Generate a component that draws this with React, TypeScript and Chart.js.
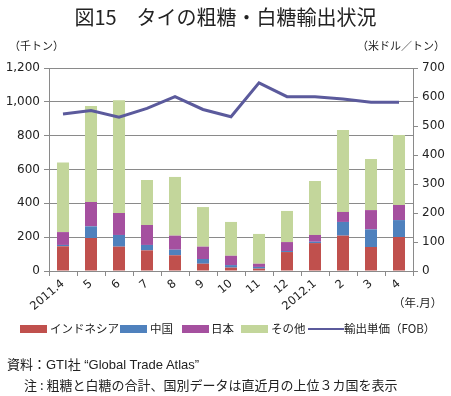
import React, { useEffect, useRef } from "react";
import { Chart, registerables } from "chart.js";

Chart.register(...registerables);

const categories = ["2011.4", "5", "6", "7", "8", "9", "10", "11", "12", "2012.1", "2", "3", "4"];
const indonesia = [146, 195, 144, 122, 93, 43, 20, 14, 112, 165, 209, 142, 201];
const china = [8, 69, 69, 32, 33, 28, 15, 10, 6, 8, 81, 104, 100];
const japan = [76, 144, 130, 118, 83, 73, 55, 19, 53, 40, 59, 114, 89];
const others = [412, 567, 667, 266, 347, 234, 200, 176, 184, 319, 484, 302, 414];
const exportPrice = [541, 553, 530, 561, 601, 557, 532, 649, 601, 601, 593, 582, 582];

const seriesNames = ["インドネシア", "中国", "日本", "その他", "輸出単価（FOB）"];
const colors = ["#c0504d", "#4f81bd", "#a5509f", "#c3d69b", "#5b5a9c"];

const FONT = "'Noto Sans CJK JP', 'Noto Sans', sans-serif";
const LATIN_FONT = "'Liberation Sans', 'Noto Sans CJK JP', sans-serif";

export default function App() {
  const ref = useRef<HTMLCanvasElement | null>(null);

  useEffect(() => {
    if (!ref.current) return;
    const chart = new Chart(ref.current, {
      type: "bar",
      data: {
        labels: categories,
        datasets: [
          {
            type: "line",
            label: seriesNames[4],
            data: exportPrice,
            borderColor: colors[4],
            backgroundColor: colors[4],
            borderWidth: 3,
            pointRadius: 0,
            tension: 0,
            yAxisID: "y2",
            order: 0,
          } as any,
          { label: seriesNames[0], data: indonesia, backgroundColor: colors[0], yAxisID: "y", stack: "s", order: 1 },
          { label: seriesNames[1], data: china, backgroundColor: colors[1], yAxisID: "y", stack: "s", order: 1 },
          { label: seriesNames[2], data: japan, backgroundColor: colors[2], yAxisID: "y", stack: "s", order: 1 },
          { label: seriesNames[3], data: others, backgroundColor: colors[3], yAxisID: "y", stack: "s", order: 1 },
        ],
      },
      options: {
        animation: false,
        responsive: false,
        maintainAspectRatio: false,
        datasets: { bar: { categoryPercentage: 1, barPercentage: 0.43 } },
        layout: { padding: { left: 0, right: 0, top: 68, bottom: 0 } },
        plugins: { legend: { display: false }, tooltip: { enabled: false } },
        scales: {
          x: {
            stacked: true,
            offset: true,
            grid: { display: true, offset: true, drawOnChartArea: false, drawTicks: true, tickLength: 5, color: "#8a8a8a" },
            border: { color: "#8a8a8a" },
            ticks: {
              color: "#222",
              font: { family: "'DejaVu Sans', sans-serif", size: 11.5 },
              minRotation: 40,
              maxRotation: 40,
              autoSkip: false,
              padding: 1,
            },
            afterFit: (s: any) => { s.height = 396 - 271; },
          },
          y: {
            stacked: true,
            position: "left",
            min: 0,
            max: 1200,
            ticks: {
              stepSize: 200,
              color: "#222",
              padding: 4,
              font: { family: "'DejaVu Sans', sans-serif", size: 12 },
              callback: (v: any) => Number(v).toLocaleString("en-US"),
            },
            grid: { color: "#8a8a8a", tickLength: 5, drawTicks: true },
            border: { color: "#8a8a8a" },
            afterFit: (s: any) => { s.width = 49; },
          },
          y2: {
            position: "right",
            min: 0,
            max: 700,
            ticks: {
              stepSize: 100,
              color: "#222",
              padding: 4,
              font: { family: "'DejaVu Sans', sans-serif", size: 12 },
            },
            grid: { drawOnChartArea: false, color: "#8a8a8a", tickLength: 5 },
            border: { color: "#8a8a8a" },
            afterFit: (s: any) => { s.width = 451 - 413; },
          },
        },
      },
    });
    return () => chart.destroy();
  }, []);

  const abs = (style: React.CSSProperties): React.CSSProperties => ({
    position: "absolute",
    whiteSpace: "nowrap",
    fontFamily: FONT,
    color: "#222",
    lineHeight: 1,
    ...style,
  });

  const legendItems = [
    { x: 20, tx: 50, kind: "box", i: 0 },
    { x: 120, tx: 150, kind: "box", i: 1 },
    { x: 182, tx: 211, kind: "box", i: 2 },
    { x: 241, tx: 271, kind: "box", i: 3 },
    { x: 308, tx: 344, kind: "line", i: 4 },
  ];

  return (
    <div style={{ position: "absolute", left: 0, top: 0, width: 451, height: 396, background: "#fff", overflow: "hidden" }}>
      <canvas ref={ref} width={451} height={396} style={{ position: "absolute", left: 0, top: 0, width: 451, height: 396 }} />
      <div style={abs({ left: 0, width: 451, top: 7, textAlign: "center", fontSize: 20, fontWeight: 400 })}>図15　タイの粗糖・白糖輸出状況</div>
      <div style={abs({ left: 9, top: 40, fontSize: 11 })}>（千トン）</div>
      <div style={abs({ left: 357, top: 40, fontSize: 11 })}>（米ドル／トン）</div>
      <div style={abs({ left: 393, top: 297, fontSize: 11.5 })}>（年.月）</div>
      {legendItems.map((it) => (
        <React.Fragment key={it.i}>
          {it.kind === "box" ? (
            <div style={{ position: "absolute", left: it.x, top: 325, width: 27, height: 8, background: colors[it.i] }} />
          ) : (
            <div style={{ position: "absolute", left: it.x, top: 328, width: 36, height: 2, background: colors[it.i] }} />
          )}
          <div style={abs({ left: it.tx, top: 323, fontSize: 11.5 })}>{seriesNames[it.i]}</div>
        </React.Fragment>
      ))}
      <div style={abs({ left: 7, top: 358, fontSize: 13, fontFamily: LATIN_FONT })}>資料：GTI社 “Global Trade Atlas”</div>
      <div style={abs({ left: 24, top: 378, fontSize: 13 })}>注 : 粗糖と白糖の合計、国別データは直近月の上位３カ国を表示</div>
    </div>
  );
}
